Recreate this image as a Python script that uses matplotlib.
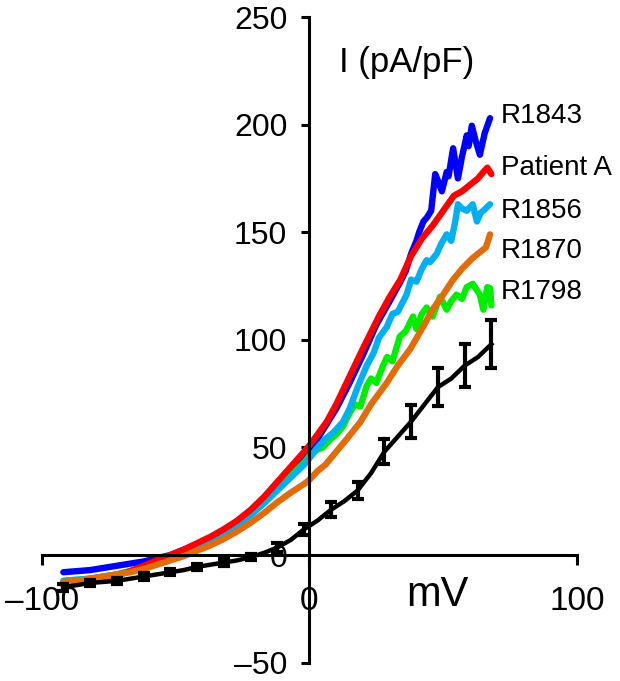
import numpy as np
import matplotlib.pyplot as plt

plt.rcParams['font.family'] = ['Liberation Sans', 'DejaVu Sans']

# R1843 (blue)
x_r1843 = [-92, -87, -82, -77, -72, -67, -62, -57, -52, -47, -42, -37, -32, -27, -22, -17, -12, -7, -2, 0,
           3, 6, 10, 15, 20, 25, 30, 34, 36, 38, 40, 41, 42.6, 44, 45.5, 47, 48, 49.5, 51.3, 52, 53.7,
           55.5, 57, 58.8, 59.5, 60.7, 62, 63.7, 65.5, 67.5]
y_r1843 = [-8, -7.5, -7, -6, -5, -4, -3, -1.5, 0, 2.5, 5, 8, 11.5, 15.5, 20.5, 26, 33, 40, 47, 49,
           54, 60, 68, 80, 93, 107, 118, 127, 132, 140, 146, 150, 155, 157, 160, 177, 174, 169, 178, 176, 189,
           175, 185, 195, 190, 199.5, 193, 186, 196, 203]

# Patient A (red)
x_pat = [-92, -87, -82, -77, -72, -67, -62, -57, -52, -47, -42, -37, -32, -27, -22, -17, -12, -7, -2, 0,
         3, 6.5, 10, 15, 20, 26, 30, 34, 38, 42, 46, 50, 54, 57, 60, 63, 65, 66.5, 68]
y_pat = [-14, -13, -12, -11, -9.5, -7.5, -5, -2.5, 0, 2.5, 5.5, 8.5, 12, 16, 21, 27, 34, 41, 48, 51,
         56, 62, 70, 83, 96, 111, 120, 128, 139, 147, 153, 160, 167, 169, 172, 175, 178, 180, 177]

# R1856 (light blue)
x_r1856 = [-92, -87, -82, -77, -72, -67, -62, -57, -52, -47, -42, -37, -32, -27, -22, -17, -12, -7, -2, 0,
           3, 6, 9, 12.6, 15, 18, 21.4, 24, 26, 28.9, 31, 33, 36.3, 38, 40, 42, 43.8, 45, 47.6, 49, 51.3,
           53, 54.5, 55.5, 57, 58.8, 61, 62.6, 64, 65, 67.5]
y_r1856 = [-12, -11.5, -11, -10, -9, -7.5, -5.5, -3, -1, 1.5, 4, 7, 10, 14, 18.5, 24, 30, 36, 42, 45,
           50, 54, 57, 62, 68, 78, 88, 94, 101, 106, 112, 113, 121, 128, 127, 133, 137, 136, 140, 144, 149,
           146, 155, 163, 161, 160, 163, 155, 159, 160, 163]

# R1870 (orange)
x_r1870 = [-92, -87, -82, -77, -72, -67, -62, -57, -52, -47, -42, -37, -32, -27, -22, -17, -12, -7, -2, 0,
           3, 6, 10, 14, 18.9, 23, 28.9, 33, 37.6, 42, 46, 50, 53.6, 57, 61, 63, 65, 66, 67, 67.5]
y_r1870 = [-12.5, -12, -11, -10, -9, -8, -6.5, -4.5, -2.5, -0.5, 2, 4.5, 7.5, 11, 15, 19.5, 24.5, 29, 33, 35,
           39, 42, 48, 54, 61.6, 70, 80, 88, 95.6, 105, 114, 121, 127.8, 133, 138, 140, 142, 143, 147, 149]

# R1798 (green)
x_r1798 = [-92, -87, -82, -77, -72, -67, -62, -57, -52, -47, -42, -37, -32, -27, -22, -17, -12, -7, -2, 0,
           3, 5, 8, 10, 12.6, 15, 17, 19, 21.4, 23, 25, 27.5, 29, 31, 33.8, 36, 38.7, 40, 42, 43.8, 46,
           48.8, 51.3, 53, 55, 57, 58.8, 61, 63.7, 65, 66.5, 67.5, 68]
y_r1798 = [-12, -11.5, -11, -10, -9, -7.5, -5.5, -3, -0.5, 2, 5, 8, 11.5, 15, 19.5, 25, 31, 37, 43, 46,
           49, 50, 54, 56, 60, 66, 70, 69, 78.6, 82, 80, 88, 92, 90, 101.6, 104, 110.8, 105, 112, 115, 110.8,
           120, 114, 118, 121, 119, 124.5, 126, 121, 114, 124.5, 124, 116]

# WT mean +/- SEM (black)
x_wt = [-92, -87, -82, -77, -72, -67, -62, -57, -52, -47, -42, -37, -32, -27, -22, -17, -12, -7, -2,
        3, 8, 13, 18, 23, 28, 33, 38, 43, 48, 53, 58, 63, 68]
y_wt = [-15, -14, -13, -12.5, -12, -11, -10, -9, -8, -7, -5.5, -4.5, -3.5, -2.5, -1, 1, 3.5, 7, 12,
        16, 21, 25, 30, 38, 48, 55, 62, 70, 78, 82, 88, 92, 98]
e_wt = [1.5, 1.5, 1.5, 1.5, 1.5, 1.5, 1.5, 1.5, 1.5, 1.5, 1.5, 1.5, 1.5, 1.5, 1.5, 2, 2, 2, 2.5,
        3, 3.5, 3.5, 4, 5, 5.7, 6.5, 7.6, 8, 8.7, 9.5, 10, 10.5, 11]

names = ["R1843", "Patient A", "R1856", "R1870", "R1798"]
name_y = [204, 180, 160, 141.5, 122]

fig = plt.figure(figsize=(6.2, 6.81), dpi=100)
ax = fig.add_axes([0.0677, 0.027, 0.8629, 0.948])

lw = 4.6
ax.plot(x_r1843, y_r1843, color="#0000ff", lw=lw, solid_capstyle="round")
ax.plot(x_r1798, y_r1798, color="#00ee00", lw=lw, solid_capstyle="round")
ax.plot(x_r1856, y_r1856, color="#00b0f0", lw=lw, solid_capstyle="round")
ax.plot(x_pat, y_pat, color="#ff0000", lw=lw, solid_capstyle="round")
ax.plot(x_r1870, y_r1870, color="#e36c0a", lw=lw, solid_capstyle="round")
ax.errorbar(x_wt, y_wt, yerr=e_wt, color="black", lw=3.2, elinewidth=3,
            capsize=4.5, capthick=3, errorevery=(0, 2))

ax.set_xlim(-100, 100)
ax.set_ylim(-50, 250)
ax.spines["left"].set_position(("data", 0))
ax.spines["bottom"].set_position(("data", 0))
ax.spines["top"].set_visible(False)
ax.spines["right"].set_visible(False)
for s in ["left", "bottom"]:
    ax.spines[s].set_linewidth(2.2)

ax.set_xticks([-100, 0, 100])
ax.set_xticklabels(["\u2013100", "0", "100"])
ax.set_yticks([-50, 0, 50, 100, 150, 200, 250])
ax.set_yticklabels(["\u201350", "0", "50", "100", "150", "200", "250"])
ax.tick_params(axis="x", direction="out", length=7, width=2.2, labelsize=24, pad=15)
ax.tick_params(axis="y", direction="out", length=6, width=2.2, labelsize=23, pad=10)

ax.text(11, 229, "I (pA/pF)", fontsize=25, va="center", ha="left")
ax.text(47.7, -18.5, "mV", fontsize=30, va="center", ha="center")
for n, yy in zip(names, name_y):
    ax.text(71.5, yy, n, fontsize=20, va="center", ha="left")

fig.savefig("out.png", dpi=100)
